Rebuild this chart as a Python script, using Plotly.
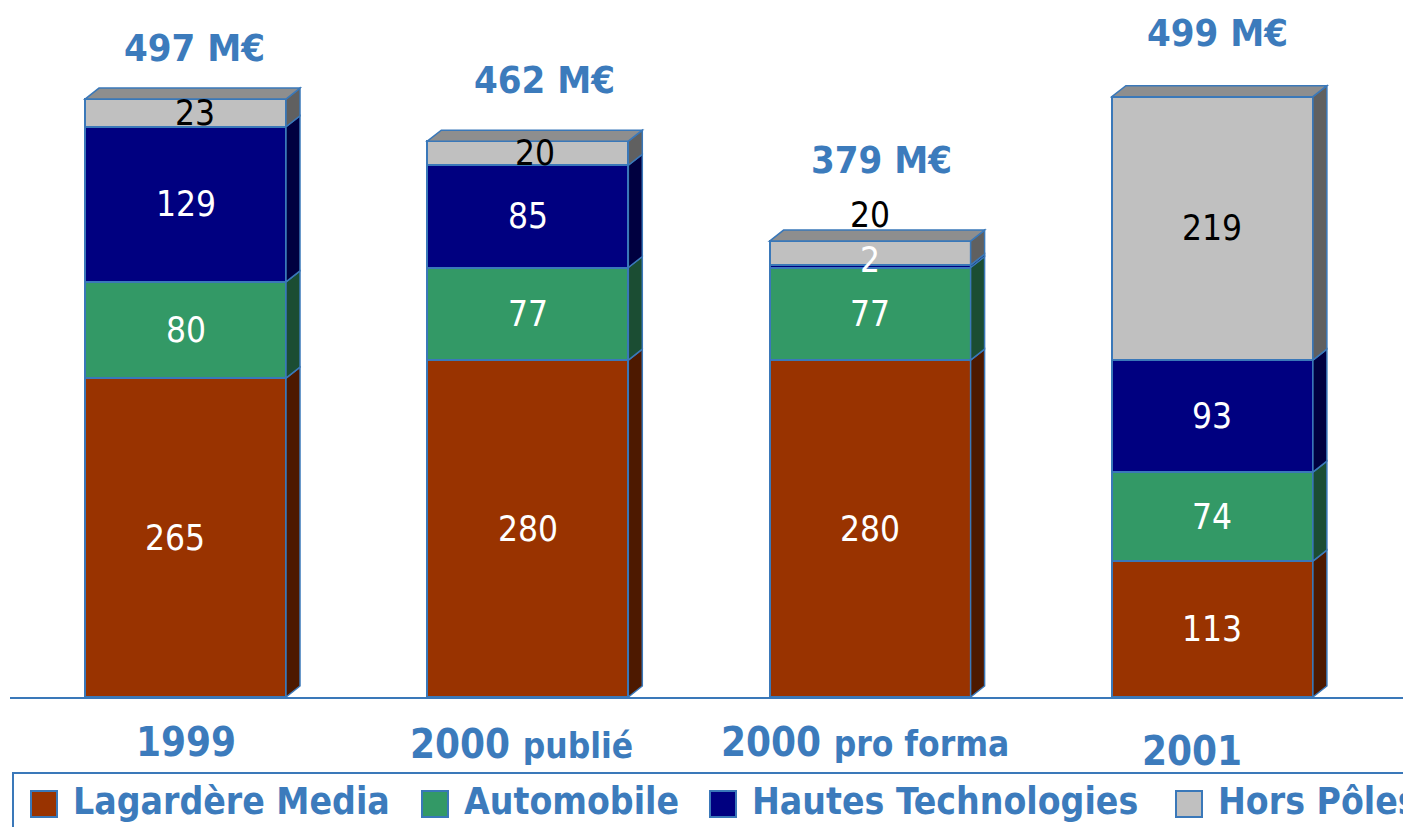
import plotly.graph_objects as go

# ---------------- data ----------------
categories = ["1999", "2000 publié", "2000 pro forma", "2001"]
cat_labels = ["1999", "2000 <span style='font-size:35px'>publié</span>",
              "2000 <span style='font-size:35px'>pro forma</span>", "2001"]
series_names = ["Lagardère Media", "Automobile", "Hautes Technologies", "Hors Pôles"]
lagardere = [265, 280, 280, 113]
automobile = [80, 77, 77, 74]
hautes_tech = [129, 85, 2, 93]
hors_poles = [23, 20, 20, 219]
totals = [497, 462, 379, 499]
total_labels = ["497 M€", "462 M€", "379 M€", "499 M€"]

# ---------------- styles ----------------
FONT = "DejaVu Sans Condensed, DejaVu Sans, Liberation Sans, Arial"
BLUE = "#3C7BBC"
OUTLINE = "#3A78B9"
front_colors = ["#993300", "#339966", "#000080", "#C0C0C0"]
side_colors = ["#4D1900", "#1B4D33", "#000040", "#606060"]
top_color = "#8E8E8E"
label_colors = ["white", "white", "white", "black"]

W, H = 1403, 827
ML, MB = 10, 130
PX_PER_CAT = 342.3
PX_PER_UNIT = 1.203
FIRST_CENTER_PX = 185.5
BAR_W = 201 / PX_PER_CAT
DX = 14 / PX_PER_CAT
DY = 11 / PX_PER_UNIT
plot_h = H - MB

x_pos = list(range(len(categories)))
series = [lagardere, automobile, hautes_tech, hors_poles]

# per-label pixel tweaks (layout only)
total_xshift = [9, 17, 11, 5]
total_yshift = [51, 61, 81, 64]
cat_xshift = [0, -6, -5, -20]
cat_center_px = [742, 744, 742, 751]
seg_yshift = {(2, 3): 38, (2, 2): 6}
seg_xshift = {(0, 0): -11, (0, 3): 9, (1, 3): 7}

fig = go.Figure()
for s, (name, vals) in enumerate(zip(series_names, series)):
    fig.add_trace(go.Bar(
        x=x_pos, y=vals, name=name, width=BAR_W,
        marker=dict(color=front_colors[s], line=dict(color=OUTLINE, width=2)),
        showlegend=False, hovertext=categories, hoverinfo="text+y+name",
    ))

shapes = []
annotations = []
for i in x_pos:
    xl, xr = i - BAR_W / 2, i + BAR_W / 2
    base = 0
    for s, vals in enumerate(series):
        v = vals[i]
        y0, y1 = base, base + v
        path = (f"M {xr},{y0} L {xr+DX},{y0+DY} L {xr+DX},{y1+DY} L {xr},{y1} Z")
        shapes.append(dict(type="path", path=path, xref="x", yref="y",
                           fillcolor=side_colors[s], line=dict(color=OUTLINE, width=1.5)))
        annotations.append(dict(
            x=i, y=(y0 + y1) / 2, xref="x", yref="y", text=str(v), showarrow=False,
            xshift=seg_xshift.get((i, s), 0), yshift=seg_yshift.get((i, s), 0),
            font=dict(family=FONT, size=35, color=label_colors[s]),
        ))
        base = y1
    # top face
    path = (f"M {xl},{base} L {xl+DX},{base+DY} L {xr+DX},{base+DY} L {xr},{base} Z")
    shapes.append(dict(type="path", path=path, xref="x", yref="y",
                       fillcolor=top_color, line=dict(color=OUTLINE, width=1.5)))
    # total label
    annotations.append(dict(
        x=i, y=totals[i], xref="x", yref="y", text=total_labels[i], showarrow=False,
        yanchor="middle", xshift=total_xshift[i], yshift=total_yshift[i],
        font=dict(family=FONT, size=38, color=BLUE, weight="bold"),
    ))
    # category label
    annotations.append(dict(
        x=i, y=0, xref="x", yref="paper", text=cat_labels[i], showarrow=False,
        yanchor="middle", xshift=cat_xshift[i], yshift=-(cat_center_px[i] - plot_h),
        font=dict(family=FONT, size=40, color=BLUE, weight="bold"),
    ))

# ---------------- manual legend ----------------
plot_w = W - ML
def px_x(p):
    return (p - ML) / plot_w
def px_y(p):
    return 1 - p / plot_h

shapes.append(dict(type="rect", xref="paper", yref="paper",
                   x0=px_x(13), x1=px_x(1430), y0=px_y(773), y1=px_y(860),
                   line=dict(color=OUTLINE, width=2), fillcolor="rgba(0,0,0,0)"))
legend_sq_px = [31, 422, 710, 1176]
for s, name in enumerate(series_names):
    x0 = legend_sq_px[s]
    shapes.append(dict(type="rect", xref="paper", yref="paper",
                       x0=px_x(x0), x1=px_x(x0 + 26), y0=px_y(791), y1=px_y(817),
                       fillcolor=front_colors[s], line=dict(color=OUTLINE, width=2)))
    annotations.append(dict(
        x=px_x(x0 + 40), y=px_y(801), xref="paper", yref="paper", text=name,
        showarrow=False, xanchor="left", yanchor="middle",
        font=dict(family=FONT, size=37, color=BLUE, weight="bold"),
    ))

fig.update_layout(
    width=W, height=H,
    margin=dict(l=ML, r=0, t=0, b=MB, pad=0),
    paper_bgcolor="white", plot_bgcolor="white",
    barmode="stack", bargap=0,
    xaxis=dict(range=[-(FIRST_CENTER_PX - ML) / PX_PER_CAT, (W - FIRST_CENTER_PX) / PX_PER_CAT],
               showticklabels=False, showgrid=False, zeroline=False,
               showline=True, linecolor=OUTLINE, linewidth=2, fixedrange=True),
    yaxis=dict(range=[0, plot_h / PX_PER_UNIT], visible=False, showgrid=False,
               zeroline=False, fixedrange=True),
    shapes=shapes, annotations=annotations,
    showlegend=False,
)

fig.write_html("out.html", config={"displayModeBar": False},
               post_script="document.body.style.margin='0';document.body.style.overflow='hidden';")
